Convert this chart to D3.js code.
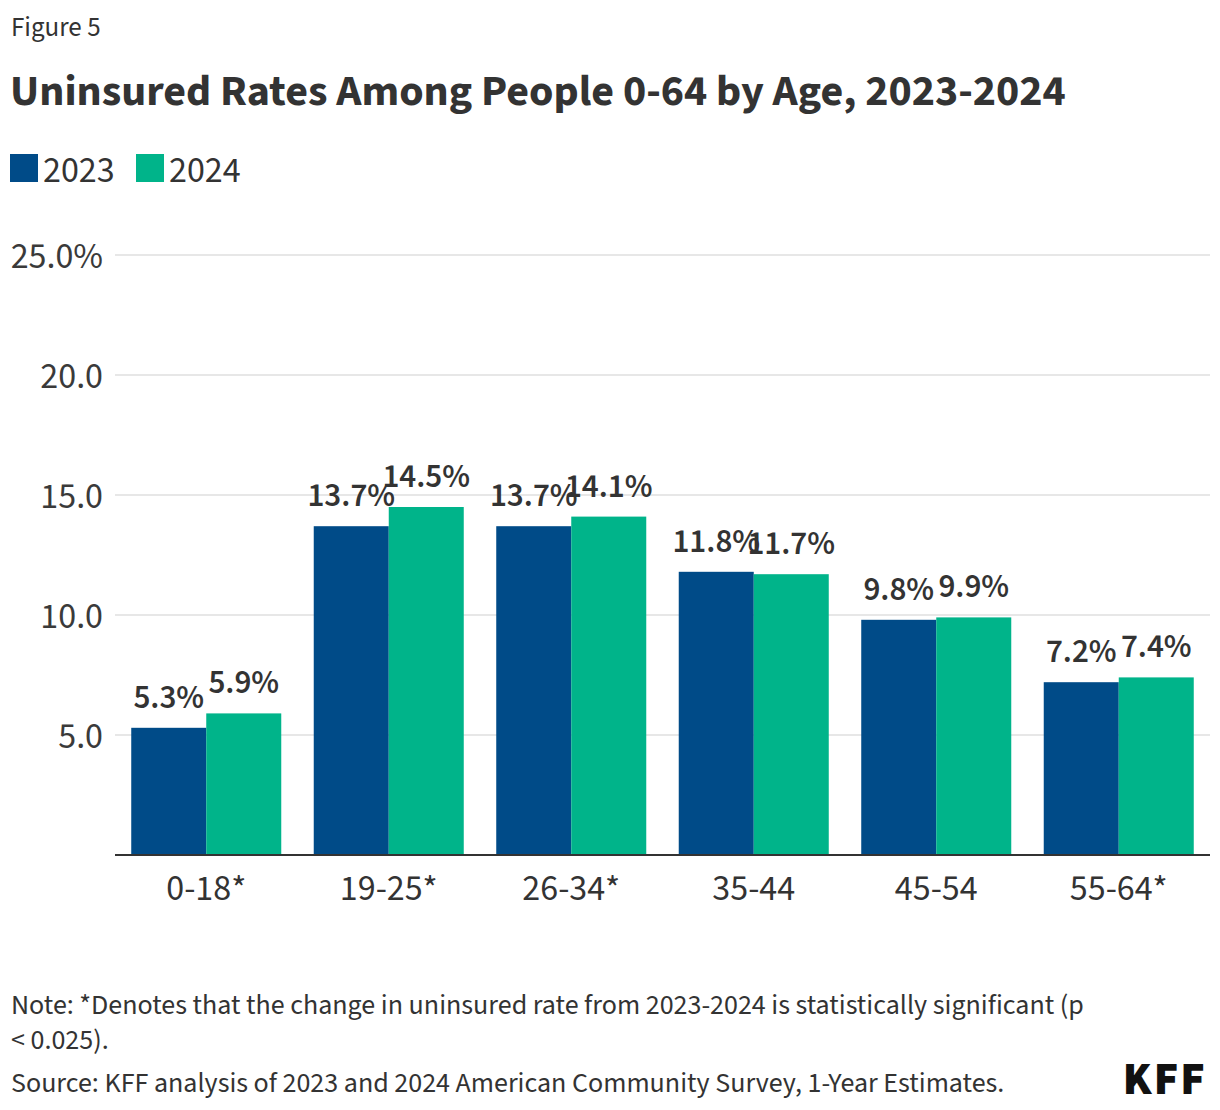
<!DOCTYPE html>
<html>
<head>
<meta charset="utf-8">
<script src="https://cdn.jsdelivr.net/npm/d3@7"></script>
<style>
  body { margin: 0; background: #fff; }
  svg { display: block; font-family: "Source Sans Pro", "Source Sans 3", Lato, "Noto Sans", sans-serif; }
</style>
</head>
<body>
<div id="chart"></div>
<script>
const ageGroups = ['0-18*', '19-25*', '26-34*', '35-44', '45-54', '55-64*'];
const years = ['2023', '2024'];
const rates2023 = [5.3, 13.7, 13.7, 11.8, 9.8, 7.2];
const rates2024 = [5.9, 14.5, 14.1, 11.7, 9.9, 7.4];
const yTicks = [5, 10, 15, 20, 25];

const colors = { '2023': '#004b88', '2024': '#00b48a' };

const width = 1220, height = 1110;
const margin = { top: 255, right: 10, bottom: 255, left: 115 };

const svg = d3.select('#chart').append('svg')
  .attr('width', width)
  .attr('height', height);

// header
svg.append('text')
  .attr('x', 11).attr('y', 36)
  .attr('fill', '#333').style('font-size', '27px')
  .text('Figure 5');

svg.append('text')
  .attr('x', 10).attr('y', 105)
  .attr('fill', '#333').style('font-size', '44px').style('font-weight', 700)
  .text('Uninsured Rates Among People 0-64 by Age, 2023-2024');

// legend
const legend = svg.append('g').attr('transform', 'translate(10,154)');
let lx = 0;
years.forEach(yr => {
  legend.append('rect')
    .attr('x', lx).attr('y', 0)
    .attr('width', 28).attr('height', 28)
    .attr('fill', colors[yr]);
  legend.append('text')
    .attr('x', lx + 33).attr('y', 28)
    .attr('fill', '#333').style('font-size', '36px')
    .text(yr);
  lx += 126;
});

const x0 = d3.scaleBand()
  .domain(ageGroups)
  .range([margin.left, width - margin.right])
  .paddingInner(0.178)
  .paddingOuter(0.089);

const x1 = d3.scaleBand()
  .domain(years)
  .range([0, x0.bandwidth()]);

const y = d3.scaleLinear()
  .domain([0, 25])
  .range([height - margin.bottom, margin.top]);

// gridlines
svg.append('g')
  .selectAll('line')
  .data(yTicks)
  .enter().append('line')
  .attr('x1', margin.left)
  .attr('x2', width - margin.right)
  .attr('y1', d => y(d))
  .attr('y2', d => y(d))
  .attr('stroke', '#cfcfcf')
  .attr('stroke-width', 1);

// y labels
svg.append('g')
  .selectAll('text')
  .data(yTicks)
  .enter().append('text')
  .attr('x', 103)
  .attr('y', d => y(d) + 13)
  .attr('text-anchor', 'end')
  .attr('fill', '#3a3a3a')
  .style('font-size', '36px')
  .text(d => d === 25 ? d.toFixed(1) + '%' : d.toFixed(1));

const data = ageGroups.map((g, i) => ({ group: g, values: { '2023': rates2023[i], '2024': rates2024[i] } }));

const groups = svg.append('g')
  .selectAll('g')
  .data(data)
  .enter().append('g')
  .attr('transform', d => 'translate(' + x0(d.group) + ',0)');

groups.selectAll('rect')
  .data(d => years.map(yr => ({ yr, v: d.values[yr] })))
  .enter().append('rect')
  .attr('x', d => x1(d.yr))
  .attr('y', d => y(d.v))
  .attr('width', x1.bandwidth())
  .attr('height', d => y(0) - y(d.v))
  .attr('fill', d => colors[d.yr]);

groups.selectAll('text.val')
  .data(d => years.map(yr => ({ yr, v: d.values[yr] })))
  .enter().append('text')
  .attr('class', 'val')
  .attr('x', d => x1(d.yr) + x1.bandwidth() / 2)
  .attr('y', d => y(d.v) - 20)
  .attr('text-anchor', 'middle')
  .attr('fill', '#333')
  .style('font-size', '33px')
  .style('font-weight', 600)
  .text(d => d.v.toFixed(1) + '%');

// baseline
svg.append('line')
  .attr('x1', margin.left)
  .attr('x2', width - margin.right)
  .attr('y1', y(0))
  .attr('y2', y(0))
  .attr('stroke', '#333')
  .attr('stroke-width', 2);

// x labels
svg.append('g')
  .selectAll('text')
  .data(ageGroups)
  .enter().append('text')
  .attr('x', d => x0(d) + x0.bandwidth() / 2)
  .attr('y', y(0) + 45)
  .attr('text-anchor', 'middle')
  .attr('fill', '#333')
  .style('font-size', '36px')
  .text(d => d);

// footer
const note = svg.append('g').attr('fill', '#333').style('font-size', '28px');
note.append('text').attr('x', 11).attr('y', 1014)
  .text('Note: *Denotes that the change in uninsured rate from 2023-2024 is statistically significant (p');
note.append('text').attr('x', 11).attr('y', 1049)
  .text('< 0.025).');
note.append('text').attr('x', 11).attr('y', 1092)
  .text('Source: KFF analysis of 2023 and 2024 American Community Survey, 1-Year Estimates.');

svg.append('text')
  .attr('x', 1207).attr('y', 1094)
  .attr('text-anchor', 'end')
  .attr('fill', '#111')
  .style('font-size', '46px')
  .style('font-weight', 900)
  .style('letter-spacing', '2px')
  .text('KFF');
</script>
</body>
</html>
